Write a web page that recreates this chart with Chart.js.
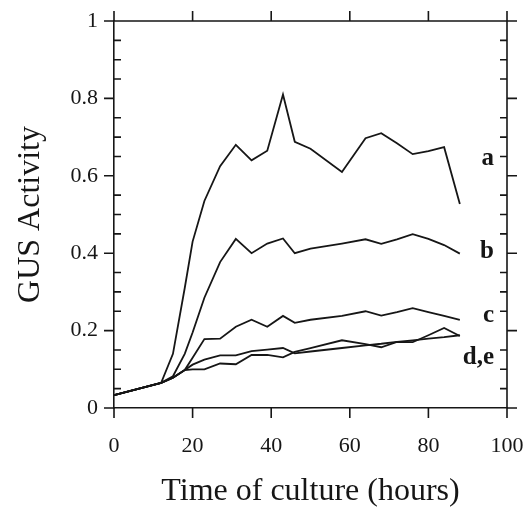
<!DOCTYPE html>
<html>
<head>
<meta charset="utf-8">
<script src="https://cdn.jsdelivr.net/npm/chart.js@4"></script>
<style>
  html, body { margin: 0; padding: 0; background: #fff; }
  #wrap { width: 527px; height: 508px; }
</style>
</head>
<body>
<div id="wrap"><canvas id="chart" width="527" height="508"></canvas></div>
<script>
// ------------------ Data ------------------
const hours = [0, 12, 15, 18, 20, 23, 27, 31, 35, 39, 43, 46, 50, 58, 64, 68, 72, 76, 80, 84, 88];

const seriesA = [0.033, 0.065, 0.14, 0.31, 0.43, 0.535, 0.625, 0.68, 0.64, 0.665, 0.81, 0.688, 0.67, 0.61, 0.697, 0.71, 0.684, 0.656, 0.664, 0.674, 0.527];
const seriesB = [0.033, 0.065, 0.082, 0.14, 0.195, 0.285, 0.377, 0.437, 0.40, 0.425, 0.438, 0.40, 0.412, 0.425, 0.436, 0.424, 0.436, 0.449, 0.437, 0.421, 0.399];
const seriesC = [0.033, 0.065, 0.078, 0.098, 0.13, 0.178, 0.179, 0.21, 0.228, 0.21, 0.238, 0.22, 0.228, 0.238, 0.25, 0.239, 0.248, 0.258, 0.248, 0.238, 0.228];
const seriesD = [0.033, 0.065, 0.078, 0.098, 0.112, 0.125, 0.136, 0.136, 0.147, 0.151, 0.155, 0.141, 0.146, 0.155, 0.162, 0.166, 0.171, 0.175, 0.179, 0.183, 0.188];
const seriesE = [0.033, 0.065, 0.078, 0.098, 0.10, 0.10, 0.115, 0.113, 0.137, 0.137, 0.131, 0.145, 0.155, 0.175, 0.165, 0.157, 0.171, 0.17, 0.188, 0.207, 0.186];

const curveNames = ["a", "b", "c", "d", "e"];
const sideLabels = ["a", "b", "c", "d,e"];
const sideLabelValues = [0.645, 0.405, 0.24, 0.13];

const xTicks = [0, 20, 40, 60, 80, 100];
const yMajor = [0, 0.2, 0.4, 0.6, 0.8, 1];
const yMinorStep = 0.05;

// ------------------ Helpers ------------------
const SERIF = '"Liberation Serif", "Times New Roman", serif';
const INK = "#161616";

function toPoints(values) {
  return hours.map((h, i) => ({ x: h, y: values[i] }));
}

// frame, ticks and curve labels
const framePlugin = {
  id: "frame",
  afterDraw(chart) {
    const { ctx, chartArea: a, scales } = chart;
    const xs = scales.x, ys = scales.y;
    ctx.save();
    ctx.strokeStyle = INK;
    ctx.lineWidth = 1.6;
    ctx.beginPath();
    // top and right borders
    ctx.moveTo(a.left, a.top); ctx.lineTo(a.right, a.top);
    ctx.moveTo(a.right, a.top); ctx.lineTo(a.right, a.bottom);
    // x ticks, bottom and top, outward
    xTicks.forEach(v => {
      const px = xs.getPixelForValue(v);
      ctx.moveTo(px, a.bottom); ctx.lineTo(px, a.bottom + 10);
      ctx.moveTo(px, a.top); ctx.lineTo(px, a.top - 10);
    });
    // y ticks: major outward, minor inward
    for (let k = 0; k <= Math.round(1 / yMinorStep); k++) {
      const v = k * yMinorStep;
      const py = ys.getPixelForValue(v);
      const major = yMajor.some(m => Math.abs(m - v) < 1e-6);
      if (major) {
        ctx.moveTo(a.left - 10, py); ctx.lineTo(a.left, py);
        ctx.moveTo(a.right, py); ctx.lineTo(a.right + 10, py);
      } else {
        ctx.moveTo(a.left, py); ctx.lineTo(a.left + 7, py);
        ctx.moveTo(a.right - 7, py); ctx.lineTo(a.right, py);
      }
    }
    ctx.stroke();

    // curve labels
    ctx.fillStyle = INK;
    ctx.font = "bold 25px " + SERIF;
    ctx.textAlign = "right";
    ctx.textBaseline = "middle";
    sideLabels.forEach((t, i) => {
      ctx.fillText(t, a.right - 13, ys.getPixelForValue(sideLabelValues[i]));
    });
    ctx.restore();
  }
};

// ------------------ Chart ------------------
const datasets = [seriesA, seriesB, seriesC, seriesD, seriesE].map((vals, i) => ({
  label: curveNames[i],
  data: toPoints(vals),
  borderColor: INK,
  borderWidth: 1.8,
  pointRadius: 0,
  tension: 0,
  fill: false
}));

new Chart(document.getElementById("chart").getContext("2d"), {
  type: "line",
  data: { datasets },
  options: {
    responsive: false,
    animation: false,
    layout: { padding: { top: 21, right: 20, left: 0, bottom: 0 } },
    plugins: { legend: { display: false }, tooltip: { enabled: false } },
    scales: {
      x: {
        type: "linear",
        min: 0, max: 100,
        afterFit: s => { s.height = 100; s.paddingLeft = 0; s.paddingRight = 0; },
        grid: { display: false },
        border: { display: true, color: INK, width: 1.6 },
        ticks: {
          stepSize: 20,
          padding: 17,
          color: INK,
          maxRotation: 0,
          font: { family: SERIF, size: 22 }
        },
        title: {
          display: true,
          text: "Time of culture (hours)",
          color: INK,
          padding: { top: 0, bottom: 0 },
          font: { family: SERIF, size: 32, lineHeight: 1.0 }
        }
      },
      y: {
        min: 0, max: 1,
        afterFit: s => { s.width = 114; s.paddingTop = 0; s.paddingBottom = 0; },
        grid: { display: false },
        border: { display: true, color: INK, width: 1.6 },
        ticks: {
          stepSize: 0.2,
          padding: 8,
          color: INK,
          font: { family: SERIF, size: 22 },
          callback: v => String(+v.toFixed(1))
        },
        title: {
          display: true,
          text: "GUS Activity",
          color: INK,
          padding: { top: 11, bottom: 0 },
          font: { family: SERIF, size: 32, lineHeight: 1.2 }
        }
      }
    }
  },
  plugins: [framePlugin]
});
</script>
</body>
</html>
